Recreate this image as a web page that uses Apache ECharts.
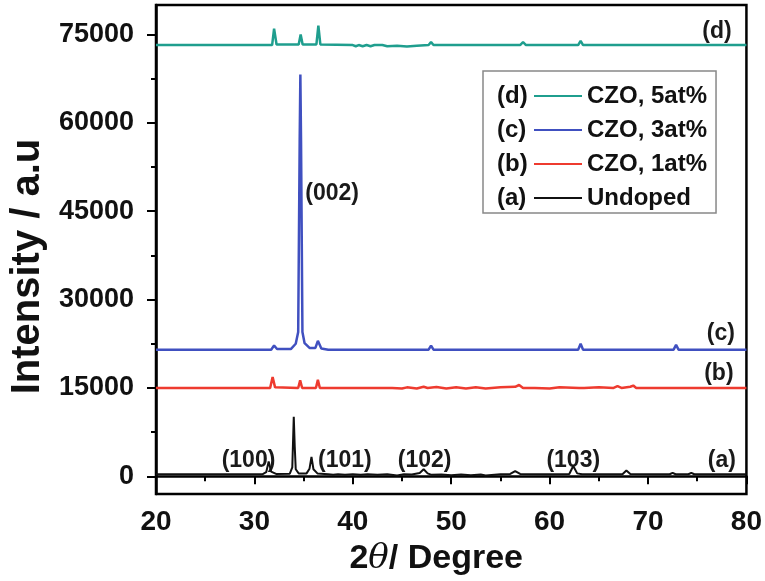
<!DOCTYPE html>
<html>
<head>
<meta charset="utf-8">
<script src="https://cdn.jsdelivr.net/npm/echarts@6/dist/echarts.min.js"></script>
<style>
    html, body { margin: 0; padding: 0; background: #fff; }
    #main { width: 765px; height: 581px; }
</style>
</head>
<body>
<div id="main"></div>
<script>
    // XRD patterns, [2theta, intensity]
    var undoped = [
        [20, 350], [30.8, 350], [31.2, 700], [31.45, 2500], [31.7, 800], [32.2, 400],
        [33.6, 450], [33.85, 1500], [34.0, 10100], [34.1, 5000], [34.2, 1200], [34.5, 500],
        [35.3, 500], [35.6, 1300], [35.8, 3300], [36.0, 1200], [36.4, 500], [37.5, 350],
        [38, 250], [38.5, 350], [39.2, 250], [40, 350], [40.8, 250], [41.5, 350], [42.5, 250],
        [43.5, 350], [44.5, 150], [45.2, 350], [46, 300], [46.8, 550], [47.2, 1200], [47.6, 500],
        [48, 250], [49, 300], [50, 200], [51, 300], [52, 200], [53, 300], [53.5, 150], [55, 350],
        [56, 400], [56.5, 900], [57, 400], [59.8, 350], [60, 150], [60.3, 350], [62, 400],
        [62.4, 1750], [62.8, 500], [63.3, 350], [67.4, 350], [67.8, 1000], [68.2, 400],
        [72.2, 350], [72.5, 600], [72.8, 350], [74.1, 350], [74.4, 600], [74.7, 350], [80, 350]
    ];
    var czo1 = [
        [20, 15000], [31.6, 15000], [31.85, 16850], [32.1, 15100], [34.45, 15000], [34.65, 16300],
        [34.85, 15000], [36.25, 15000], [36.45, 16400], [36.65, 15000], [44, 15000], [45, 14900],
        [45.5, 15100], [46.5, 14900], [47.2, 15200], [47.6, 15000], [48.5, 15150], [49.5, 14900],
        [50.5, 15100], [51.5, 14900], [52.5, 15100], [53.5, 14900], [55, 15100], [56.5, 15200],
        [56.9, 15500], [57.3, 15000], [58.5, 15000], [60, 14900], [61, 15100], [63, 15000],
        [63.2, 15300], [63.5, 15000], [65, 15100], [66.5, 15000], [66.9, 15300], [67.3, 15000],
        [68.2, 15200], [68.5, 15400], [68.8, 15000], [70, 15000], [80, 15000]
    ];
    var czo3 = [
        [20, 21500], [31.7, 21500], [32.0, 22200], [32.3, 21600], [33.7, 21600], [34.2, 22500],
        [34.45, 24500], [34.6, 56700], [34.67, 68200], [34.74, 56700], [34.88, 24500], [35.1, 22600],
        [35.6, 21800], [36.2, 21800], [36.45, 23000], [36.8, 21700], [37.5, 21500], [47.7, 21500],
        [47.95, 22200], [48.2, 21500], [62.9, 21500], [63.15, 22500], [63.4, 21500], [68.1, 21500],
        [68.3, 21800], [68.5, 21500], [72.6, 21500], [72.85, 22300], [73.1, 21500], [80, 21500]
    ];
    var czo5 = [
        [20, 73200], [31.8, 73200], [32.0, 76000], [32.25, 73300], [34.5, 73300], [34.7, 75000],
        [34.9, 73300], [36.3, 73300], [36.5, 76500], [36.7, 73300], [40, 73200], [40.3, 73000],
        [40.6, 73200], [41, 73000], [41.4, 73200], [41.8, 73000], [42.2, 73200], [43, 73200],
        [43.5, 73000], [44.5, 73100], [45.5, 72950], [46.5, 73100], [47.7, 73200], [47.95, 73700],
        [48.2, 73200], [57, 73200], [57.3, 73700], [57.6, 73200], [62.9, 73200], [63.15, 73900],
        [63.4, 73200], [66.5, 73200], [66.7, 73500], [66.9, 73200], [68.0, 73200], [68.2, 73500],
        [68.4, 73200], [69.2, 73200], [69.4, 73500], [69.6, 73200], [80, 73200]
    ];

    var seriesNames = ['Undoped', 'CZO, 1at%', 'CZO, 3at%', 'CZO, 5at%'];
    var seriesColors = ['#111111', '#ee3b2f', '#4050c0', '#1f9e8e'];
    var legendOrder = ['CZO, 5at%', 'CZO, 3at%', 'CZO, 1at%', 'Undoped'];
    var legendTags = ['(d)', '(c)', '(b)', '(a)'];

    var yMajor = [0, 15000, 30000, 45000, 60000, 75000];
    var yMinor = [7500, 22500, 37500, 52500, 67500];

    // peak / curve labels: [text, 2theta, intensity]
    var notes = [
        ['(002)', 37.9, 47900], ['(100)', 29.4, 2700], ['(101)', 39.2, 2700],
        ['(102)', 47.3, 2700], ['(103)', 62.4, 2700], ['(a)', 77.5, 2700],
        ['(b)', 77.2, 17400], ['(c)', 77.4, 24200], ['(d)', 77.0, 75500]
    ];

    var font = 'Liberation Sans, Arial, sans-serif';
    var chart = echarts.init(document.getElementById('main'));

    var patterns = [undoped, czo1, czo3, czo5];
    var series = patterns.map(function (d, i) {
        return {
            name: seriesNames[i],
            type: 'line',
            data: d,
            showSymbol: false,
            symbol: 'none',
            animation: false,
            lineStyle: { color: seriesColors[i], width: i === 0 ? 2 : 2.5 },
            itemStyle: { color: seriesColors[i] }
        };
    });
    series.push({
        name: 'notes',
        type: 'scatter',
        symbolSize: 1,
        animation: false,
        itemStyle: { color: 'rgba(0,0,0,0)', opacity: 1 },
        data: notes.map(function (n) { return { name: n[0], value: [n[1], n[2]] }; }),
        label: {
            show: true,
            position: 'inside',
            formatter: '{b}',
            color: '#1a1a1a',
            opacity: 1,
            textBorderWidth: 0,
            fontFamily: font,
            fontWeight: 'bold',
            fontSize: 23
        }
    });

    chart.setOption({
        backgroundColor: '#fff',
        grid: {
            left: 148, right: 18, top: 5, bottom: 86,
            show: true, borderColor: '#000', borderWidth: 2.5
        },
        legend: {
            data: legendOrder,
            orient: 'vertical',
            left: 483,
            top: 71,
            padding: [13, 9, 3, 51],
            itemGap: 10,
            itemWidth: 48,
            itemHeight: 2,
            icon: 'rect',
            borderColor: '#888',
            borderWidth: 1.5,
            backgroundColor: '#fff',
            textStyle: {
                fontFamily: font, fontWeight: 'bold', fontSize: 24, color: '#111', lineHeight: 24
            }
        },
        graphic: legendTags.map(function (t, i) {
            return {
                type: 'text',
                left: 497,
                top: 84 + i * 34,
                z: 100,
                style: { text: t, fontFamily: font, fontWeight: 'bold', fontSize: 24, fill: '#111' }
            };
        }),
        xAxis: {
            type: 'value',
            min: 20, max: 80, interval: 10,
            name: '{a|2}{b|θ}{a|/ Degree}',
            nameLocation: 'middle',
            nameGap: 48,
            nameTextStyle: {
                padding: [0, 30, 0, 0],
                rich: {
                    a: { fontFamily: font, fontWeight: 'bold', fontSize: 34, color: '#111' },
                    b: { fontFamily: 'DejaVu Serif, serif', fontStyle: 'italic', fontSize: 34, color: '#111' }
                }
            },
            axisLine: { lineStyle: { color: '#000', width: 2.5 } },
            axisTick: { length: 8, lineStyle: { color: '#000', width: 2 } },
            minorTick: { show: true, splitNumber: 2, length: 5, lineStyle: { color: '#000', width: 2 } },
            splitLine: { show: false },
            axisLabel: {
                margin: 14, color: '#111', fontFamily: font, fontWeight: 'bold', fontSize: 28
            }
        },
        yAxis: [{
            type: 'value',
            min: -3000, max: 80000,
            name: 'Intensity / a.u',
            nameLocation: 'middle',
            nameGap: 108,
            nameTextStyle: {
                padding: [0, 34, 0, 0],
                fontFamily: font, fontWeight: 'bold', fontSize: 40, color: '#111'
            },
            axisLine: { lineStyle: { color: '#000', width: 2.5 } },
            axisTick: { customValues: yMajor, length: 9, lineStyle: { color: '#000', width: 2 } },
            splitLine: { show: false },
            axisLabel: {
                customValues: yMajor, margin: 22, color: '#111',
                fontFamily: font, fontWeight: 'bold', fontSize: 27,
                formatter: function (v) { return String(v); }
            }
        }, {
            type: 'value',
            min: -3000, max: 80000,
            position: 'left',
            axisLine: { show: false },
            axisTick: { customValues: yMinor, length: 5, lineStyle: { color: '#000', width: 2 } },
            axisLabel: { show: false },
            splitLine: { show: false }
        }],
        series: series
    });
</script>
</body>
</html>
